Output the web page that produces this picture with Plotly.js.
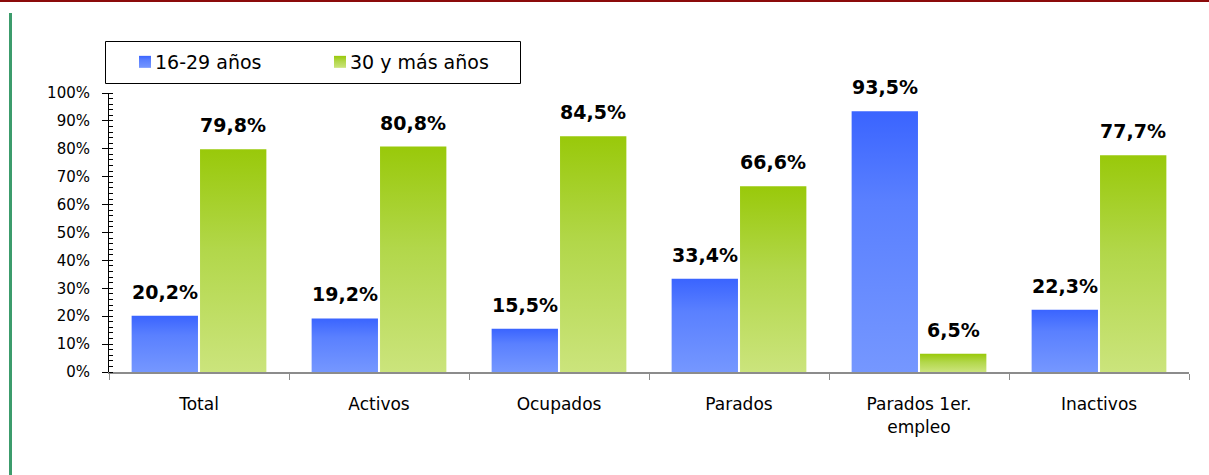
<!DOCTYPE html>
<html>
<head>
<meta charset="utf-8">
<script src="https://cdn.plot.ly/plotly-3.0.1.min.js"></script>
<style>
  html, body { margin: 0; padding: 0; background: #ffffff; }
  #chart { width: 1209px; height: 475px; }
</style>
</head>
<body>
<div id="chart"></div>
<script>
// ---- Data ----
const categories = ["Total", "Activos", "Ocupados", "Parados", "Parados 1er.<br>empleo", "Inactivos"];
const seriesNames = ["16-29 años", "30 y más años"];
const youngValues = [20.2, 19.2, 15.5, 33.4, 93.5, 22.3];
const olderValues = [79.8, 80.8, 84.5, 66.6, 6.5, 77.7];
const yTickValues = [0, 10, 20, 30, 40, 50, 60, 70, 80, 90, 100];
const yTickLabels = ["0%", "10%", "20%", "30%", "40%", "50%", "60%", "70%", "80%", "90%", "100%"];

// ---- Layout geometry (pixels) ----
const W = 1209, H = 475;
const M = { l: 109, r: 20, t: 93, b: 103 };
const PW = W - M.l - M.r, PH = H - M.t - M.b;
const px = x => (x - M.l) / PW;
const py = y => (H - M.b - y) / PH;

const FONT = "DejaVu Sans";
const fmt = v => v.toFixed(1).replace('.', ',') + '%';

const traces = [
  { type: 'bar', name: seriesNames[0], x: categories, y: youngValues,
    marker: { color: '#5a80ff', line: { width: 0 } }, hoverinfo: 'skip' },
  { type: 'bar', name: seriesNames[1], x: categories, y: olderValues,
    marker: { color: '#b5d94a', line: { width: 0 } }, hoverinfo: 'skip' }
];

const annotations = [];
const offsetPx = 34;
categories.forEach((c, i) => {
  annotations.push({ x: c, y: youngValues[i], xref: 'x', yref: 'y', text: fmt(youngValues[i]),
    showarrow: false, xanchor: 'center', yanchor: 'bottom', xshift: -offsetPx, yshift: 11,
    font: { family: FONT, size: 19, color: '#000000', weight: 'bold' } });
  annotations.push({ x: c, y: olderValues[i], xref: 'x', yref: 'y', text: fmt(olderValues[i]),
    showarrow: false, xanchor: 'center', yanchor: 'bottom', xshift: offsetPx, yshift: 11,
    font: { family: FONT, size: 19, color: '#000000', weight: 'bold' } });
});

const shapes = [
  // top dark red rule
  { type: 'line', xref: 'paper', yref: 'paper', x0: px(0), x1: px(W), y0: py(1), y1: py(1),
    line: { color: '#8b0a0a', width: 2 } },
  // left green rule
  { type: 'line', xref: 'paper', yref: 'paper', x0: px(10.5), x1: px(10.5), y0: py(13), y1: py(H),
    line: { color: '#3c9c6c', width: 3 } },
  // legend frame
  { type: 'rect', xref: 'paper', yref: 'paper', x0: px(105.5), x1: px(520.5), y0: py(83.5), y1: py(41.5),
    line: { color: '#000000', width: 1 }, fillcolor: 'rgba(0,0,0,0)' }
];

const layout = {
  width: W, height: H,
  margin: M,
  paper_bgcolor: '#ffffff', plot_bgcolor: '#ffffff',
  font: { family: FONT, color: '#000000' },
  barmode: 'group', bargap: 0.24, bargroupgap: 0.03,
  showlegend: true,
  legend: { orientation: 'h', x: px(125), xanchor: 'left', y: py(62), yanchor: 'middle',
    bgcolor: 'rgba(0,0,0,0)', borderwidth: 0, font: { family: FONT, size: 19, color: '#000000' },
    entrywidth: 150, entrywidthmode: 'pixels', traceorder: 'normal' },
  xaxis: { type: 'category', showline: true, linecolor: '#8c8c8c', linewidth: 2,
    ticks: 'outside', tickson: 'boundaries', ticklen: 6, tickcolor: '#8c8c8c', tickwidth: 1,
    ticklabelstandoff: 16, tickfont: { family: FONT, size: 17, color: '#000000' },
    showgrid: false, zeroline: false, fixedrange: true, automargin: false },
  yaxis: { range: [0, 100], tickvals: yTickValues, ticktext: yTickLabels,
    showline: true, linecolor: '#000000', linewidth: 1,
    ticks: 'outside', ticklen: 6, tickcolor: '#000000', tickwidth: 1,
    minor: { dtick: 2, ticks: 'inside', ticklen: 4, tickcolor: '#000000', tickwidth: 1, showgrid: false },
    ticklabelstandoff: 9, tickfont: { family: FONT, size: 15, color: '#000000' },
    showgrid: false, zeroline: false, fixedrange: true, automargin: false },
  annotations: annotations,
  shapes: shapes
};

function applyGradients(gd) {
  const svg = gd.querySelector('svg.main-svg');
  if (!svg) return;
  let defs = svg.querySelector('defs');
  const ns = 'http://www.w3.org/2000/svg';
  if (!defs) { defs = document.createElementNS(ns, 'defs'); svg.insertBefore(defs, svg.firstChild); }
  const grads = [
    { id: 'gradBlue', stops: [['0%', '#3a64ff'], ['35%', '#5a80ff'], ['100%', '#7597ff']] },
    { id: 'gradGreen', stops: [['0%', '#99c90a'], ['45%', '#b2d74a'], ['100%', '#cbe47c']] }
  ];
  grads.forEach(g => {
    if (defs.querySelector('#' + g.id)) return;
    const lg = document.createElementNS(ns, 'linearGradient');
    lg.setAttribute('id', g.id);
    lg.setAttribute('x1', '0'); lg.setAttribute('y1', '0');
    lg.setAttribute('x2', '0'); lg.setAttribute('y2', '1');
    g.stops.forEach(s => {
      const st = document.createElementNS(ns, 'stop');
      st.setAttribute('offset', s[0]); st.setAttribute('stop-color', s[1]);
      lg.appendChild(st);
    });
    defs.appendChild(lg);
  });
  const ids = ['gradBlue', 'gradGreen'];
  gd.querySelectorAll('.barlayer .trace.bars').forEach((t, i) => {
    t.querySelectorAll('path').forEach(p => { p.style.fill = 'url(#' + ids[i % 2] + ')'; });
  });
  gd.querySelectorAll('.legend .traces').forEach((t, i) => {
    t.querySelectorAll('.legendpoints path').forEach(p => { p.style.fill = 'url(#' + ids[i % 2] + ')'; });
    const txt = t.querySelector('text.legendtext');
    if (txt && !txt.dataset.shifted) {
      txt.setAttribute('x', String(parseFloat(txt.getAttribute('x') || '40') - 10));
      txt.dataset.shifted = '1';
    }
  });
}

const gd = document.getElementById('chart');
Plotly.newPlot(gd, traces, layout, { displayModeBar: false, staticPlot: true }).then(() => {
  applyGradients(gd);
  gd.on('plotly_afterplot', () => applyGradients(gd));
});
</script>
</body>
</html>
